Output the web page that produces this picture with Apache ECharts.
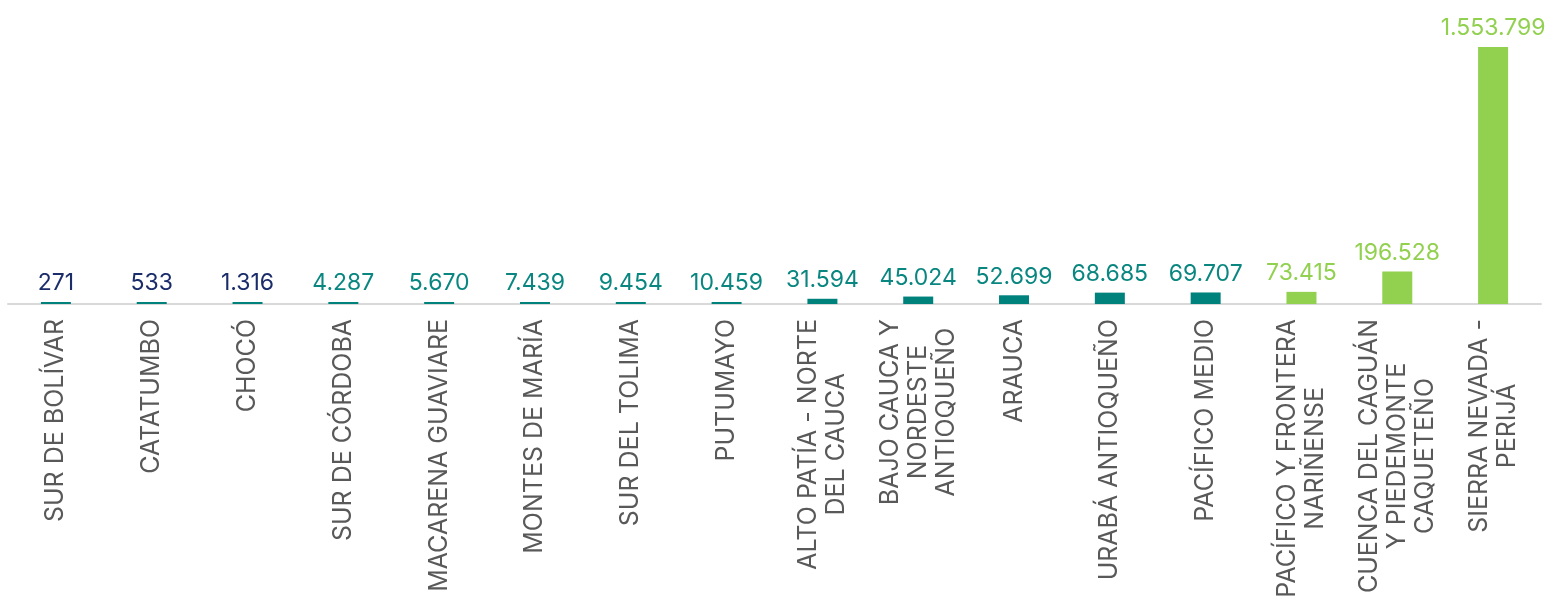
<!DOCTYPE html>
<html>
<head>
<meta charset="utf-8">
<script src="https://cdn.jsdelivr.net/npm/echarts@6/dist/echarts.min.js"></script>
<style>html,body{margin:0;padding:0;background:#fff;}#c{width:1559px;height:606px;}</style>
</head>
<body>
<div id="c"></div>
<script>
const categories = [
  "SUR DE BOLÍVAR", "CATATUMBO", "CHOCÓ", "SUR DE CÓRDOBA", "MACARENA GUAVIARE",
  "MONTES DE MARÍA", "SUR DEL TOLIMA", "PUTUMAYO", "ALTO PATÍA - NORTE\nDEL CAUCA",
  "BAJO CAUCA Y\nNORDESTE\nANTIOQUEÑO", "ARAUCA", "URABÁ ANTIOQUEÑO", "PACÍFICO MEDIO",
  "PACÍFICO Y FRONTERA\nNARIÑENSE", "CUENCA DEL CAGUÁN\nY PIEDEMONTE\nCAQUETEÑO",
  "SIERRA NEVADA -\nPERIJÁ"
];
const values = [271, 533, 1316, 4287, 5670, 7439, 9454, 10459, 31594, 45024, 52699, 68685, 69707, 73415, 196528, 1553799];
const groups = ["navy","navy","navy","teal","teal","teal","teal","teal","teal","teal","teal","teal","teal","green","green","green"];

const barColors = { navy: "#00827c", teal: "#00827c", green: "#92d050" };
const labelColors = { navy: "#1b2c6b", teal: "#0a8680", green: "#92d050" };

function fmt(v) {
  return String(v).replace(/\B(?=(\d{3})+(?!\d))/g, ".");
}

const font = "Inter, 'Open Sans', sans-serif";
const chart = echarts.init(document.getElementById("c"));
chart.setOption({
  animation: false,
  backgroundColor: "#ffffff",
  grid: { left: 8, right: 18, top: 47, bottom: 302, containLabel: false },
  xAxis: {
    type: "category",
    data: categories,
    axisTick: { show: false },
    axisLine: { lineStyle: { color: "#d9d9d9", width: 2 } },
    axisLabel: {
      interval: 0,
      rotate: 90,
      margin: 15,
      color: "#595959",
      fontFamily: font,
      fontSize: 25,
      formatter: function (v) {
        return v.split("\n").map(s => "{a|" + s + "}").join("\n");
      },
      rich: {
        a: { align: "center", fontFamily: font, fontSize: 25, color: "#595959", lineHeight: 28 }
      }
    }
  },
  yAxis: {
    type: "value",
    min: 0,
    max: "dataMax",
    show: false,
    splitLine: { show: false }
  },
  series: [{
    type: "bar",
    barWidth: 30,
    barMinHeight: 2,
    data: values.map((v, i) => ({
      value: v,
      itemStyle: { color: barColors[groups[i]] },
      label: { color: labelColors[groups[i]] }
    })),
    label: {
      show: true,
      position: "top",
      distance: 7,
      fontFamily: font,
      fontSize: 23,
      formatter: p => fmt(p.value)
    }
  }]
});
</script>
</body>
</html>
